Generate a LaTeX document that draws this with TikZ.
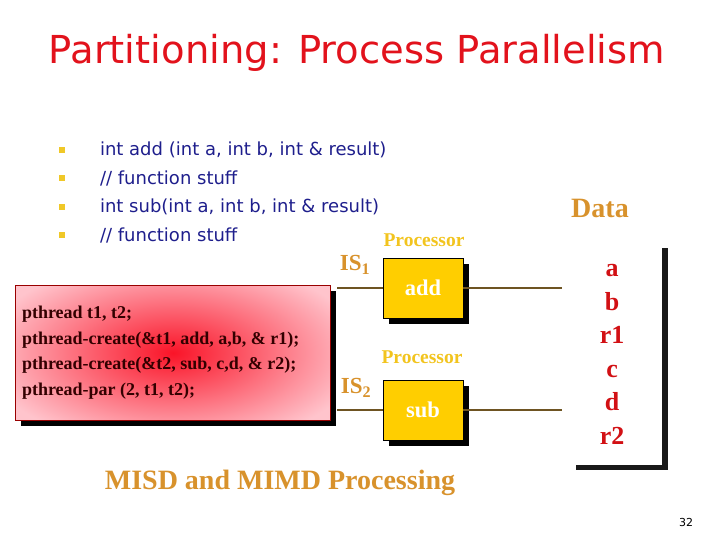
\documentclass[tikz,border=0pt]{standalone}
\usepackage{fontspec}
\setmainfont{Liberation Serif}
\newfontfamily\slidefont{DejaVu Sans}
\usetikzlibrary{positioning,shadows}

\definecolor{titlered}{RGB}{226,18,28}
\definecolor{navytext}{RGB}{30,30,140}
\definecolor{bulletyellow}{RGB}{240,200,40}
\definecolor{isorange}{RGB}{216,146,44}
\definecolor{procyellow}{RGB}{242,196,30}
\definecolor{boxyellow}{RGB}{255,206,0}
\definecolor{busbrown}{RGB}{110,84,34}
\definecolor{codepink}{RGB}{255,196,204}
\definecolor{codered}{RGB}{250,20,40}
\definecolor{datared}{RGB}{210,16,20}

\begin{document}
\begin{tikzpicture}[x=1pt, y=-1pt,
    title/.style={text=titlered, font=\slidefont\fontsize{38.5}{44}\selectfont},
    bulletsq/.style={fill=bulletyellow, minimum size=6pt, inner sep=0pt},
    item/.style={anchor=west, text=navytext, font=\slidefont\fontsize{18}{22}\selectfont},
    codebox/.style={draw=red!60!black, line width=0.6pt, fill=codepink,
        minimum width=315pt, minimum height=135pt, anchor=north west,
        path picture={\shade[inner color=codered, outer color=codepink]
            (path picture bounding box.center) ellipse (190pt and 95pt);},
        drop shadow={fill=black, opacity=1, shadow xshift=6pt, shadow yshift=-6pt}},
    codetext/.style={align=left, anchor=west, text=black!80!red, font=\bfseries\fontsize{18}{25.5}\selectfont},
    isl/.style={text=isorange, font=\bfseries\fontsize{23}{26}\selectfont},
    proc/.style={text=procyellow, font=\bfseries\fontsize{19.5}{22}\selectfont},
    cpu/.style={fill=boxyellow, draw=black, line width=0.5pt, minimum width=80pt, minimum height=60pt,
        text=white, font=\bfseries\fontsize{22.5}{26}\selectfont,
        drop shadow={fill=black, opacity=1, shadow xshift=6pt, shadow yshift=-6pt}},
    bus/.style={draw=busbrown, line width=1.5pt},
    databox/.style={fill=white, minimum width=92pt, minimum height=222pt, anchor=north west,
        drop shadow={fill=black!90, opacity=1, shadow xshift=6pt, shadow yshift=-5pt}},
    datatext/.style={align=center, text=datared, font=\bfseries\fontsize{26}{33.5}\selectfont},
    footer/.style={text=isorange, font=\bfseries\fontsize{28}{32}\selectfont}]

    \useasboundingbox (0,0) rectangle (720,540);

    % Title and bullets
    \node [title] (title) at (357,53) {Partitioning: Process Parallelism};
    \foreach \y/\txt [count=\i] in {150/{int add (int a, int b, int \& result)},
                                    178/{// function stuff},
                                    207/{int sub(int a, int b, int \& result)},
                                    235/{// function stuff}} {
        \node [bulletsq] (b\i) at (62,\y) {};
        \node [item] (t\i) at (96.5,\y) {\txt};
    }

    % Code box
    \node [codebox] (code) at (15,285) {};
    \node [codetext] (codelines) at ([xshift=3.5pt]code.west) {pthread t1, t2;\\
        pthread-create(\&t1, add, a,b, \& r1);\\
        pthread-create(\&t2, sub, c,d, \& r2);\\
        pthread-par (2, t1, t2);};

    % Processors
    \node [cpu] (add) at (423,288) {add};
    \node [cpu] (sub) at (423,410) {sub};
    \node [proc] (proc1) at (424,240) {Processor};
    \node [proc] (proc2) at (422,357) {Processor};
    \node [isl] (is1) at (355,265) {IS\textsubscript{1}};
    \node [isl] (is2) at (356,388) {IS\textsubscript{2}};

    % Data
    \node [databox] (data) at (570,243) {};
    \node [datatext] (vals) at ([xshift=-4pt]data.center) {a\\ b\\ r1\\ c\\ d\\ r2};
    \node [isl, font=\bfseries\fontsize{28}{32}\selectfont] (datalbl) at (600,208) {Data};

    % Paths
    \coordinate (in1) at (337,288);
    \coordinate (in2) at (337,410);
    \coordinate (out1) at (562,288);
    \coordinate (out2) at (562,410);
    \path [bus] (in1) -- (add.west);
    \path [bus] (add.east) -- (out1);
    \path [bus] (in2) -- (sub.west);
    \path [bus] (sub.east) -- (out2);

    % Footer
    \node [footer] (misd) at (280,483) {MISD and MIMD Processing};
    \node [font=\slidefont\fontsize{11}{13}\selectfont] (pageno) at (686,522) {32};

\end{tikzpicture}
\end{document}
